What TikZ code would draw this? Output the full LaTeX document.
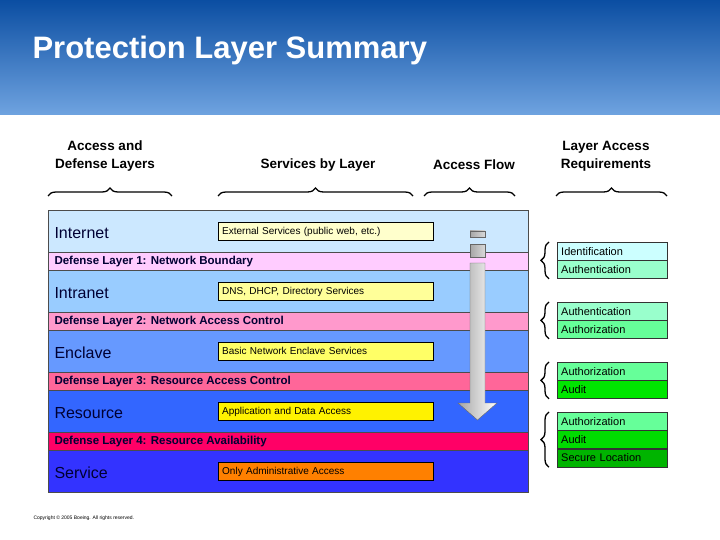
\documentclass[tikz,border=0pt]{standalone}
\usepackage{fontspec}
\setmainfont{Liberation Sans}
\usetikzlibrary{positioning, decorations.pathreplacing, shapes.arrows}
\definecolor{hdrtop}{HTML}{0B4EA2}
\definecolor{hdrbot}{HTML}{6FA3E0}
\tikzset{
  band/.style={draw=black!70, line width=0.4pt, anchor=north west, minimum width=480pt, inner sep=0pt},
  layer/.style={band, minimum height=42pt},
  defense/.style={band, minimum height=18pt},
  svc/.style={draw=black, anchor=west, minimum width=215pt, minimum height=18pt, inner sep=4pt,
    font=\fontsize{10}{11}\selectfont, text width=207pt, align=left, text height=7pt, text depth=1pt},
  req/.style={draw=black!80, anchor=north west, minimum width=110pt, minimum height=18pt, inner sep=0pt,
    text width=102pt, align=left, font=\fontsize{11}{12}\selectfont},
  head/.style={font=\bfseries\fontsize{13.5}{18}\selectfont, align=center},
  colbrace/.style={decorate, decoration={brace, amplitude=8pt}, line width=1.3pt},
  sidebrace/.style={decorate, decoration={brace, amplitude=8pt}, line width=1.3pt}
}
\begin{document}
\begin{tikzpicture}[x=1pt, y=-1pt]
\useasboundingbox (0,0) rectangle (720,540);
% header
\shade[top color=hdrtop, bottom color=hdrbot] (0,0) rectangle (720,115);
\node[anchor=west, text=white, font=\bfseries\fontsize{31}{34}\selectfont] (title) at (29,50) {Protection Layer Summary};
% column headings
\node[head] (h1) at (105,156) {Access and\\Defense Layers};
\node[head] (h2) at (318,165) {Services by Layer};
\node[head] (h3) at (474,165) {Access Flow};
\node[head] (h4) at (606,156) {Layer Access\\Requirements};
\draw[colbrace] (48,196) -- (172,196);
\draw[colbrace] (218,196) -- (413,196);
\draw[colbrace] (424,196) -- (515,196);
\draw[colbrace] (556,196) -- (667,196);
% layers
\node[layer, fill={rgb,255:red,204;green,232;blue,255}] (inet) at (48,210) {};
\node[defense, fill={rgb,255:red,255;green,204;blue,255}] (dl1) at (48,252) {};
\node[layer, fill={rgb,255:red,153;green,204;blue,255}] (intra) at (48,270) {};
\node[defense, fill={rgb,255:red,255;green,153;blue,204}] (dl2) at (48,312) {};
\node[layer, fill={rgb,255:red,102;green,153;blue,255}] (encl) at (48,330) {};
\node[defense, fill={rgb,255:red,255;green,102;blue,153}] (dl3) at (48,372) {};
\node[layer, fill={rgb,255:red,51;green,102;blue,255}] (res) at (48,390) {};
\node[defense, fill={rgb,255:red,255;green,0;blue,102}] (dl4) at (48,432) {};
\node[layer, fill={rgb,255:red,51;green,51;blue,255}] (serv) at (48,450) {};
\foreach \n/\t in {inet/Internet, intra/Intranet, encl/Enclave, res/Resource, serv/Service}
  \node[anchor=west, font=\fontsize{16}{18}\selectfont, text=black!80!blue] at ([xshift=3pt,yshift=-2pt]\n.west) {\t};
\foreach \n/\t in {dl1/{Defense Layer 1: Network Boundary}, dl2/{Defense Layer 2: Network Access Control},
  dl3/{Defense Layer 3: Resource Access Control}, dl4/{Defense Layer 4: Resource Availability}}
  \node[anchor=west, font=\bfseries\fontsize{11.5}{13}\selectfont, text=black!80!blue] at ([xshift=3pt]\n.west) {\t};
% services
\node[svc, fill={rgb,255:red,255;green,255;blue,204}] (s1) at (218,231) {External Services (public web, etc.)};
\node[svc, fill={rgb,255:red,255;green,255;blue,153}] (s2) at (218,291) {DNS, DHCP, Directory Services};
\node[svc, fill={rgb,255:red,255;green,255;blue,102}] (s3) at (218,351) {Basic Network Enclave Services};
\node[svc, fill=yellow] (s4) at (218,411) {Application and Data Access};
\node[svc, fill=orange] (s5) at (218,471) {Only Administrative Access};
% access flow
\shade[left color=gray!70, right color=gray!30, draw=black!60] (470,231) rectangle (485,237);
\shade[left color=gray!70, right color=gray!30, draw=black!60] (470,244) rectangle (485,257);
\shade[left color=gray!70, right color=white, draw=black!60]
  (470,263) -- (485,263) -- (485,403) -- (497,403) -- (477.5,420) -- (458,403) -- (470,403) -- cycle;
% requirements
\node[req, fill={rgb,255:red,204;green,255;blue,255}] (r11) at (557,242) {Identification};
\node[req, fill={rgb,255:red,153;green,255;blue,204}, below=0pt of r11] (r12) {Authentication};
\node[req, fill={rgb,255:red,153;green,255;blue,204}] (r21) at (557,302) {Authentication};
\node[req, fill={rgb,255:red,102;green,255;blue,153}, below=0pt of r21] (r22) {Authorization};
\node[req, fill={rgb,255:red,102;green,255;blue,153}] (r31) at (557,362) {Authorization};
\node[req, fill={rgb,255:red,0;green,230;blue,0}, below=0pt of r31] (r32) {Audit};
\node[req, fill={rgb,255:red,102;green,255;blue,153}] (r41) at (557,412) {Authorization};
\node[req, fill={rgb,255:red,0;green,220;blue,0}, below=0pt of r41] (r42) {Audit};
\node[req, fill={rgb,255:red,0;green,180;blue,0}, below=0pt of r42] (r43) {Secure Location};
\draw[sidebrace] ([xshift=-8pt]r12.south west) -- ([xshift=-8pt]r11.north west);
\draw[sidebrace] ([xshift=-8pt]r22.south west) -- ([xshift=-8pt]r21.north west);
\draw[sidebrace] ([xshift=-8pt]r32.south west) -- ([xshift=-8pt]r31.north west);
\draw[sidebrace] ([xshift=-8pt]r43.south west) -- ([xshift=-8pt]r41.north west);
\node[anchor=west, font=\fontsize{5}{6}\selectfont] (copy) at (30,518) {Copyright \textcopyright{} 2005 Boeing. All rights reserved.};
\end{tikzpicture}
\end{document}
